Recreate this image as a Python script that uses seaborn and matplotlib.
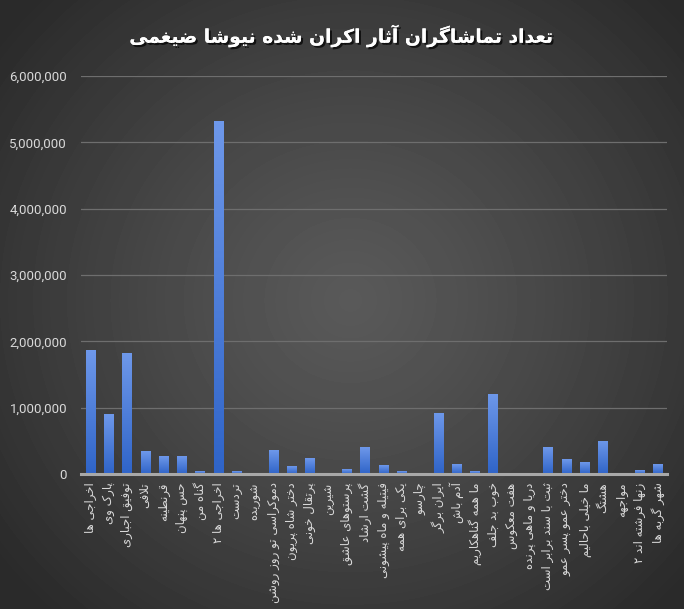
import numpy as np
import pandas as pd
import matplotlib
matplotlib.use("Agg")
import matplotlib.pyplot as plt
import seaborn as sns
from matplotlib import patheffects as pe
from matplotlib.ticker import FuncFormatter
from matplotlib.colors import LinearSegmentedColormap

# ---------------- data ----------------
title = "تعداد تماشاگران آثار اکران شده نیوشا ضیغمی"
films = [
    "اخراجی ها", "پارک وی", "توفیق اجباری", "تلافی", "قرنطینه", "حس پنهان",
    "گناه من", "اخراجی ها ۲", "تردست", "شوریده", "دموکراسی تو روز روشن",
    "دختر شاه پریون", "پرتقال خونی", "شیرین", "پرستوهای عاشق", "گشت ارشاد",
    "فیتیله و ماه پیشونی", "یکی برای همه", "چارسو", "ایران برگر", "آدم باش",
    "ما همه گناهکاریم", "خوب بد جلف", "هفت معکوس", "دریا و ماهی پرنده",
    "ثبت با سند برابر است", "دختر عمو پسر عمو", "ما خیلی باحالیم", "هشتگ",
    "مواجهه", "زنها فرشته اند ۲", "شهر گربه ها",
]
viewers = [
    1863000, 902000, 1822000, 346000, 270000, 270000,
    40000, 5320000, 40000, 10000, 357000,
    117000, 240000, 10000, 70000, 404000,
    135000, 40000, 5000, 920000, 146000,
    40000, 1207000, 5000, 5000,
    404000, 223000, 176000, 498000,
    5000, 59000, 146000,
]
y_ticks = [0, 1000000, 2000000, 3000000, 4000000, 5000000, 6000000]

# ------------- minimal Persian shaping -------------
DUALF = {
    'ب': '\uFE8F\uFE90\uFE91\uFE92', 'پ': '\uFB56\uFB57\uFB58\uFB59',
    'ت': '\uFE95\uFE96\uFE97\uFE98', 'ث': '\uFE99\uFE9A\uFE9B\uFE9C',
    'ج': '\uFE9D\uFE9E\uFE9F\uFEA0', 'چ': '\uFB7A\uFB7B\uFB7C\uFB7D',
    'ح': '\uFEA1\uFEA2\uFEA3\uFEA4', 'خ': '\uFEA5\uFEA6\uFEA7\uFEA8',
    'س': '\uFEB1\uFEB2\uFEB3\uFEB4', 'ش': '\uFEB5\uFEB6\uFEB7\uFEB8',
    'ص': '\uFEB9\uFEBA\uFEBB\uFEBC', 'ض': '\uFEBD\uFEBE\uFEBF\uFEC0',
    'ط': '\uFEC1\uFEC2\uFEC3\uFEC4', 'ظ': '\uFEC5\uFEC6\uFEC7\uFEC8',
    'ع': '\uFEC9\uFECA\uFECB\uFECC', 'غ': '\uFECD\uFECE\uFECF\uFED0',
    'ف': '\uFED1\uFED2\uFED3\uFED4', 'ق': '\uFED5\uFED6\uFED7\uFED8',
    'ک': '\uFB8E\uFB8F\uFB90\uFB91', 'گ': '\uFB92\uFB93\uFB94\uFB95',
    'ل': '\uFEDD\uFEDE\uFEDF\uFEE0', 'م': '\uFEE1\uFEE2\uFEE3\uFEE4',
    'ن': '\uFEE5\uFEE6\uFEE7\uFEE8', 'ه': '\uFEE9\uFEEA\uFEEB\uFEEC',
    'ی': '\uFBFC\uFBFD\uFBFE\uFBFF', 'ئ': '\uFE89\uFE8A\uFE8B\uFE8C',
}
RIGHTF = {
    'ا': '\uFE8D\uFE8E', 'آ': '\uFE81\uFE82', 'د': '\uFEA9\uFEAA',
    'ذ': '\uFEAB\uFEAC', 'ر': '\uFEAD\uFEAE', 'ز': '\uFEAF\uFEB0',
    'ژ': '\uFB8A\uFB8B', 'و': '\uFEED\uFEEE',
}
LETTERS = set(DUALF) | set(RIGHTF)


def fa(text):
    res = []
    n = len(text)
    i = 0
    while i < n:
        c = text[i]
        prev_j = i > 0 and text[i - 1] in DUALF
        if c == 'ل' and i + 1 < n and text[i + 1] in ('ا', 'آ'):
            if text[i + 1] == 'ا':
                res.append('\uFEFC' if prev_j else '\uFEFB')
            else:
                res.append('\uFEF6' if prev_j else '\uFEF5')
            i += 2
            continue
        if c in DUALF:
            f = DUALF[c]
            next_j = i + 1 < n and text[i + 1] in LETTERS
            if prev_j and next_j:
                g = f[3]
            elif prev_j:
                g = f[1]
            elif next_j:
                g = f[2]
            else:
                g = f[0]
            res.append(g)
        elif c in RIGHTF:
            res.append(RIGHTF[c][1] if prev_j else RIGHTF[c][0])
        else:
            res.append(c)
        i += 1
    return ''.join(reversed(res))


# ---------------- figure ----------------
W, H = 684, 609
fig = plt.figure(figsize=(W / 100, H / 100), dpi=100)

# radial dark background
yy, xx = np.mgrid[0:H, 0:W]
r = np.sqrt(((xx - 350) / (W * 0.65)) ** 2 + ((yy - 300) / (H * 0.70)) ** 2)
val = 0.35 - (0.35 - 0.165) * np.clip(r, 0, 1) ** 1.2
bg = fig.add_axes([0, 0, 1, 1], zorder=0)
bg.imshow(val, cmap="gray", vmin=0, vmax=1, aspect="auto", interpolation="bilinear")
bg.axis("off")

left, right, bottom, top = 81, 667, 474, 76
ax = fig.add_axes([left / W, 1 - bottom / H, (right - left) / W, (bottom - top) / H], zorder=1)
ax.set_facecolor("none")

df = pd.DataFrame({"film": [fa(f) for f in films], "viewers": viewers})
sns.barplot(data=df, x="film", y="viewers", ax=ax, color="#4a78d8",
            width=0.5, saturation=1, zorder=3)

# gradient fill inside each bar
grad = np.linspace(0, 1, 100).reshape(-1, 1)
cmap = LinearSegmentedColormap.from_list("bar", ["#6e98ea", "#2f64c8"])
for p in ax.patches:
    x0, y0 = p.get_x(), p.get_y()
    w, h = p.get_width(), p.get_height()
    if h <= 0:
        continue
    im = ax.imshow(grad, extent=(x0, x0 + w, y0, y0 + h), origin="upper",
                   cmap=cmap, aspect="auto", zorder=3.5, interpolation="bilinear")
    im.set_clip_path(p)

ax.set_xlim(-0.5, len(films) - 0.5)
ax.set_ylim(0, 6000000)
ax.set_yticks(y_ticks)
ax.yaxis.set_major_formatter(FuncFormatter(lambda v, _: f"{int(v):,}"))
ax.grid(axis="y", color="#6e6e6e", linewidth=0.9, zorder=0)
ax.grid(axis="x", visible=False)
ax.set_axisbelow(True)
for s in ax.spines.values():
    s.set_visible(False)
ax.axhline(0, color="#a8a8a8", linewidth=2.2, zorder=5, clip_on=False)

ax.set_xlabel("")
ax.set_ylabel("")
ax.tick_params(axis="both", length=0)
ax.tick_params(axis="y", pad=10, labelcolor="#d9d9d9")
ax.tick_params(axis="x", pad=6, labelcolor="#d9d9d9")
for t in ax.get_yticklabels():
    t.set_fontfamily("Roboto")
    t.set_fontsize(9.5)
for t in ax.get_xticklabels():
    t.set_fontfamily("DejaVu Sans")
    t.set_fontsize(8.5)
    t.set_rotation(90)
    t.set_ha("center")
    t.set_va("top")

fig.text(0.5, 1 - 36 / H, fa(title), ha="center", va="center",
         fontsize=13.5, fontweight="bold", color="white", family="DejaVu Sans",
         path_effects=[pe.withSimplePatchShadow(offset=(1.5, -1.5), shadow_rgbFace="black", alpha=0.7),
                       pe.Normal()])

fig.savefig("out.png", dpi=100)
